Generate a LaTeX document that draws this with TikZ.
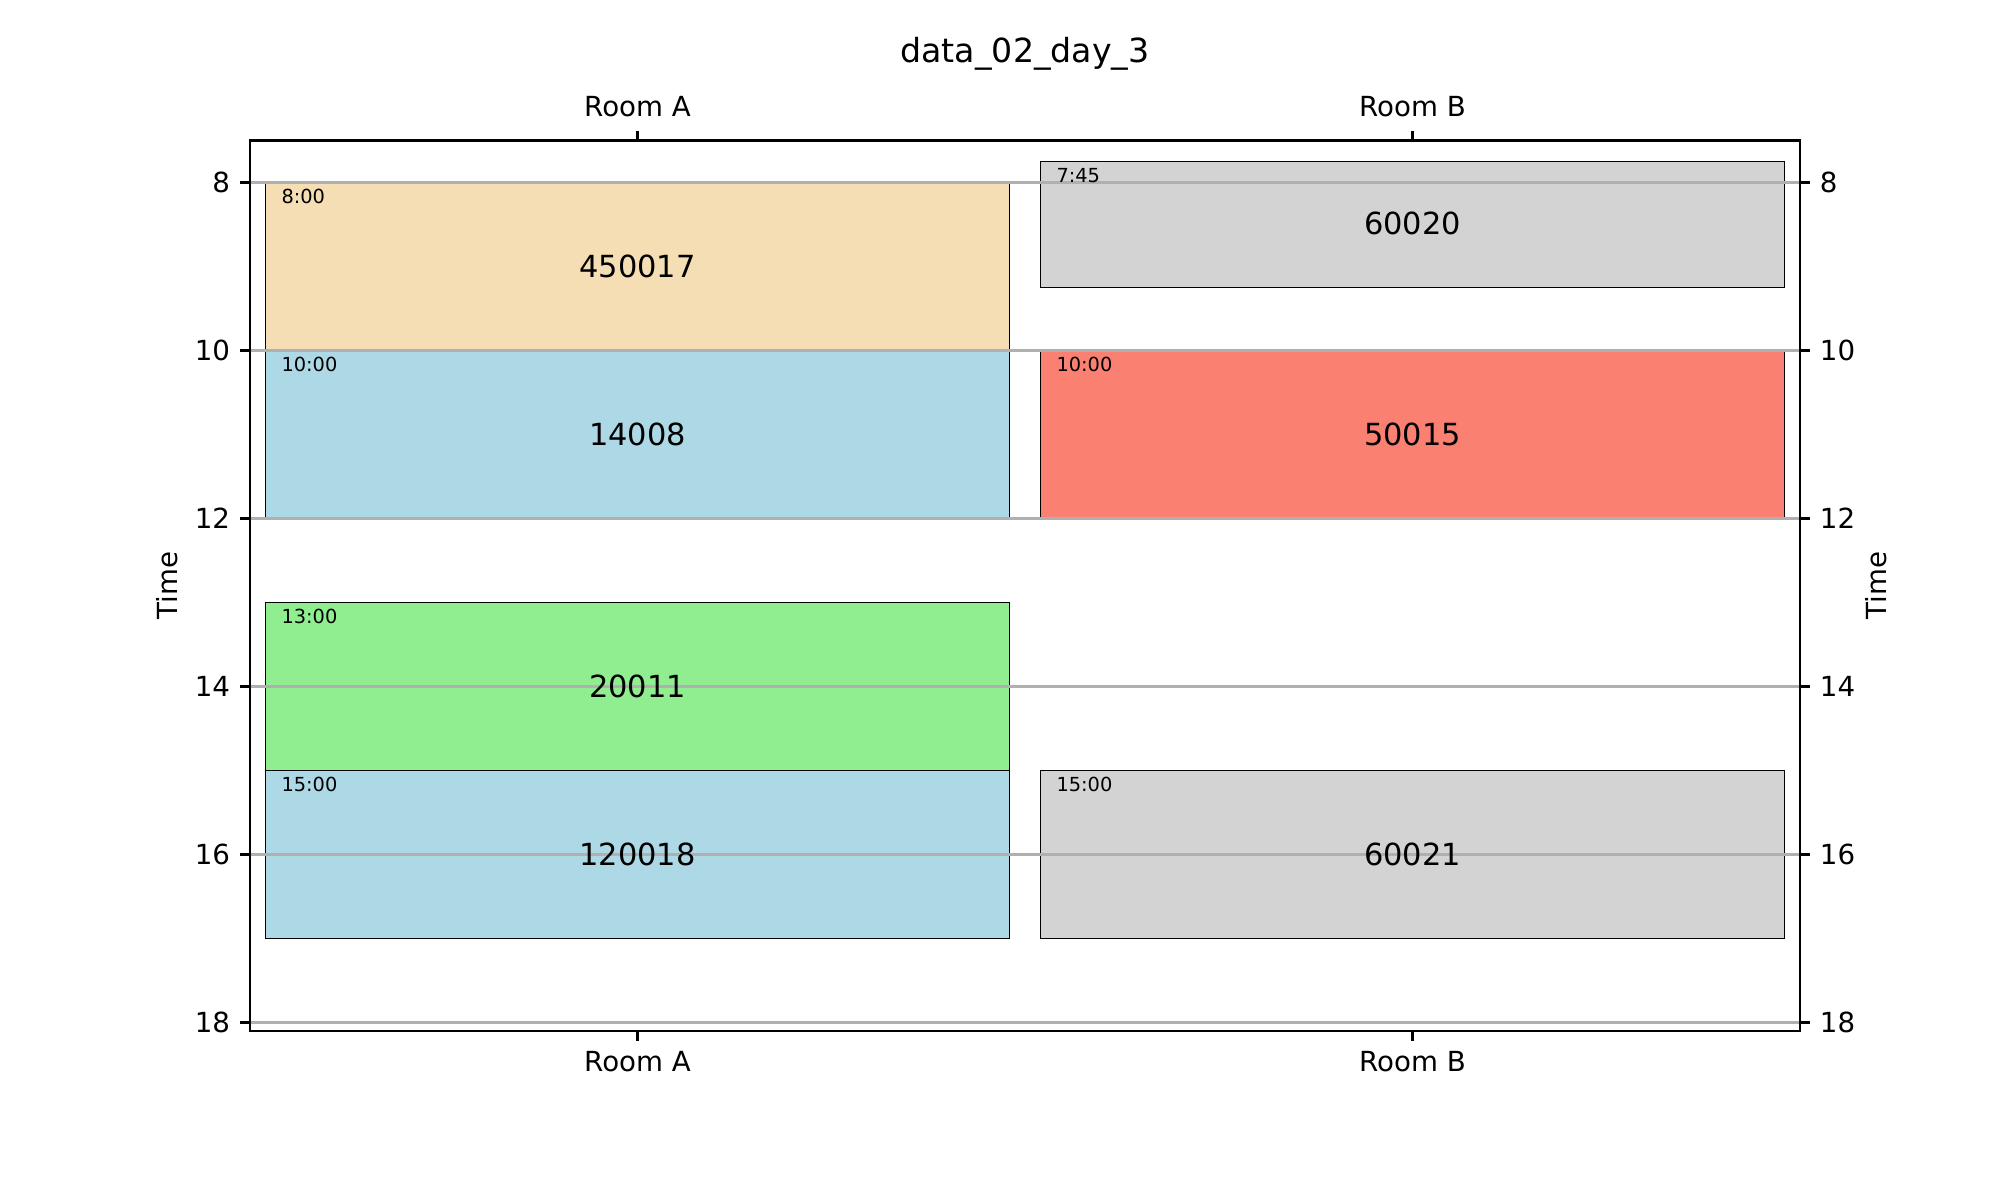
\documentclass[tikz,border=0pt]{standalone}
\usepackage{fontspec}
\setmainfont{DejaVu Sans}
\usepackage{tikz}
\usetikzlibrary{positioning}
\definecolor{wheat}{HTML}{F5DEB3}
\definecolor{lightblue}{HTML}{ADD8E6}
\definecolor{lightgreen}{HTML}{90EE90}
\definecolor{salmon}{HTML}{FA8072}
\definecolor{lightgray}{HTML}{D3D3D3}
\definecolor{gridgray}{HTML}{B0B0B0}

\begin{document}
\begin{tikzpicture}[x=9.8425cm, y=-1.0668cm,
    booking/.style={draw=black,line width=0.35pt},
    gridline/.style={draw=gridgray,line width=0.8pt},
    spine/.style={line width=0.8pt},
    ticklabel/.style={inner sep=0pt,font=\fontsize{10}{12}\selectfont},
    starttime/.style={inner sep=0pt,anchor=north west,font=\fontsize{7}{8.4}\selectfont},
    course/.style={inner sep=0pt,font=\fontsize{11}{13}\selectfont}]
    \useasboundingbox (-0.82258,5.82738) rectangle (1.75806,19.85119);

    % Room A bookings
    \filldraw[booking,fill=wheat] (-0.48,8) rectangle (0.48,10);
    \filldraw[booking,fill=lightblue] (-0.48,10) rectangle (0.48,12);
    \filldraw[booking,fill=lightgreen] (-0.48,13) rectangle (0.48,15);
    \filldraw[booking,fill=lightblue] (-0.48,15) rectangle (0.48,17);
    % Room B bookings
    \filldraw[booking,fill=lightgray] (0.52,7.75) rectangle (1.48,9.25);
    \filldraw[booking,fill=salmon] (0.52,10) rectangle (1.48,12);
    \filldraw[booking,fill=lightgray] (0.52,15) rectangle (1.48,17);

    % Horizontal grid, y ticks and tick labels on both sides
    \foreach \h in {8,10,...,18} {
      \draw[gridline] (-0.5,\h) -- (1.5,\h);
      \draw[spine] (-0.5125,\h) -- (-0.5,\h);
      \draw[spine] (1.5,\h) -- (1.5125,\h);
      \node (left_\h) [ticklabel,anchor=east] at (-0.525,\h) {\h};
      \node (right_\h) [ticklabel,anchor=west] at (1.525,\h) {\h};
    }

    % Axes frame and room ticks
    \draw[spine] (-0.5,7.5) rectangle (1.5,18.1);
    \draw[spine] (0,7.3845) -- (0,7.5);
    \draw[spine] (1,7.3845) -- (1,7.5);
    \draw[spine] (0,18.1) -- (0,18.2155);
    \draw[spine] (1,18.1) -- (1,18.2155);
    \node (room_a_top) [ticklabel,anchor=base] at (0,7.21) {Room A};
    \node (room_b_top) [ticklabel,anchor=base] at (1,7.21) {Room B};
    \node (room_a_bottom) [ticklabel,anchor=north] at (0,18.331) {Room A};
    \node (room_b_bottom) [ticklabel,anchor=north] at (1,18.331) {Room B};
    \node (time_left) [ticklabel,rotate=90] at (-0.607,12.8) {Time};
    \node (time_right) [ticklabel,rotate=90] at (1.5988,12.8) {Time};
    \node (title) [inner sep=0pt,anchor=base,font=\fontsize{12}{14}\selectfont] at (0.5,6.5655) {data\_02\_day\_3};

    % Booking texts
    \node (start_450017) [starttime] at (-0.46,8.07) {8:00};
    \node (id_450017) [course] at (0,9) {450017};
    \node (start_14008) [starttime] at (-0.46,10.07) {10:00};
    \node (id_14008) [course] at (0,11) {14008};
    \node (start_20011) [starttime] at (-0.46,13.07) {13:00};
    \node (id_20011) [course] at (0,14) {20011};
    \node (start_120018) [starttime] at (-0.46,15.07) {15:00};
    \node (id_120018) [course] at (0,16) {120018};
    \node (start_60020) [starttime] at (0.54,7.82) {7:45};
    \node (id_60020) [course] at (1,8.49) {60020};
    \node (start_50015) [starttime] at (0.54,10.07) {10:00};
    \node (id_50015) [course] at (1,11) {50015};
    \node (start_60021) [starttime] at (0.54,15.07) {15:00};
    \node (id_60021) [course] at (1,16) {60021};
  \end{tikzpicture}
\end{document}
